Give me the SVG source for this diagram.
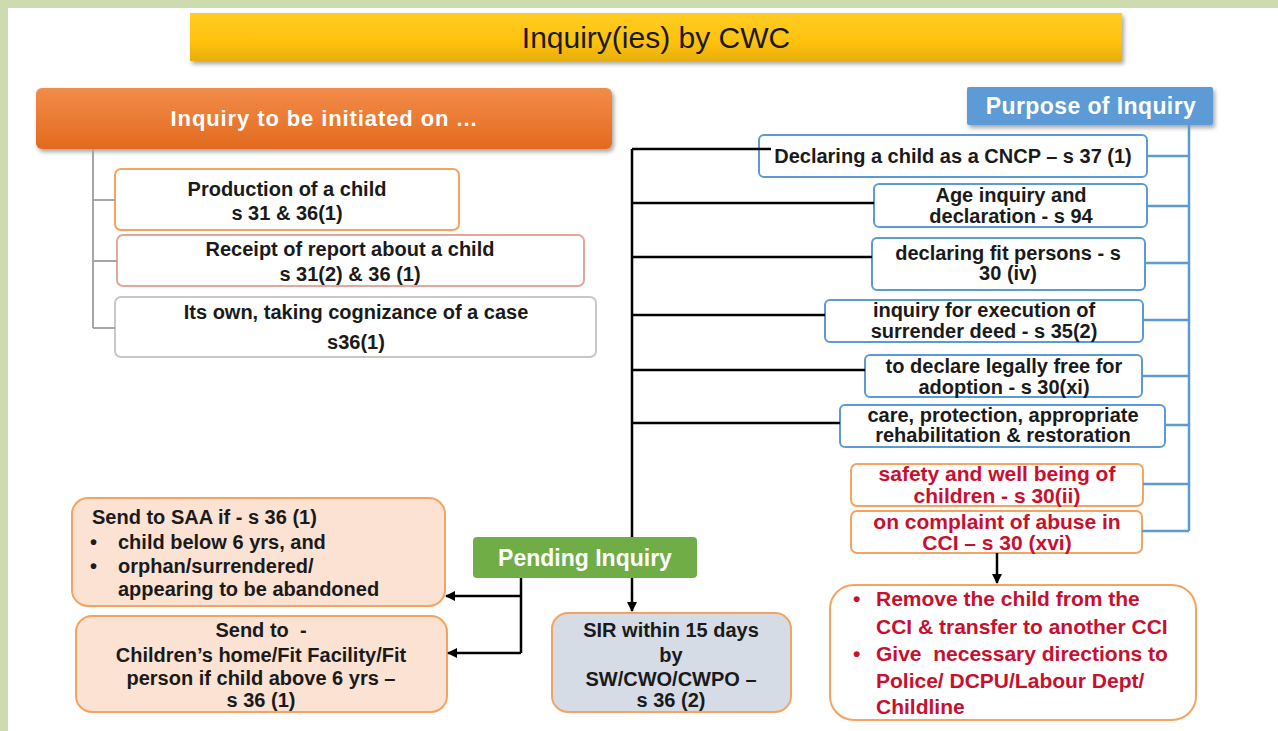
<svg xmlns="http://www.w3.org/2000/svg" width="1278" height="731" viewBox="0 0 1278 731">
<defs>
<linearGradient id="gTitle" x1="0" y1="0" x2="0" y2="1"><stop offset="0" stop-color="#FFCC22"/><stop offset="0.6" stop-color="#FFC20E"/><stop offset="1" stop-color="#E8AE10"/></linearGradient>
<linearGradient id="gOrange" x1="0" y1="0" x2="0" y2="1"><stop offset="0" stop-color="#F28C4A"/><stop offset="1" stop-color="#E36A1E"/></linearGradient>
<filter id="sh" x="-5%" y="-20%" width="110%" height="150%"><feDropShadow dx="2" dy="3" stdDeviation="2" flood-color="#000" flood-opacity="0.35"/></filter>
<marker id="ah" viewBox="0 0 10 10" refX="9" refY="5" markerWidth="10" markerHeight="10" markerUnits="userSpaceOnUse" orient="auto"><path d="M0,0 L10,5 L0,10 z" fill="#000"/></marker>
<style>
text{font-family:"Liberation Sans",Arial,sans-serif;font-weight:bold;fill:#1a1a1a;font-size:20px}
.c{text-anchor:middle}
.w{fill:#fff}
.r{fill:#C8102E;font-size:21px}
.bl{fill:#fff;stroke:#5B9BD5;stroke-width:2}
.ob{stroke:#F4A460;stroke-width:2}
.k{stroke:#000;stroke-width:2.5;fill:none}
.bln{stroke:#5B9BD5;stroke-width:2.5;fill:none}
.gr{stroke:#A6A6A6;stroke-width:2;fill:none}
</style>
</defs>
<rect x="0" y="0" width="1278" height="731" fill="#fff"/>
<rect x="0" y="0" width="1278" height="8" fill="#CDDBAE"/>
<rect x="0" y="0" width="8" height="731" fill="#CDDBAE"/>

<g id="title"><rect x="190" y="13" width="932" height="48" fill="url(#gTitle)" filter="url(#sh)"/><text x="656" y="48" class="c" style="font-weight:normal;font-size:30px;fill:#1a1a1a">Inquiry(ies) by CWC</text></g>

<g id="initiated"><rect x="36" y="88" width="576" height="61" rx="6" fill="url(#gOrange)" filter="url(#sh)"/><text x="324" y="126" class="c w" style="font-size:22px;letter-spacing:0.9px">Inquiry to be initiated on ...</text></g>

<g id="production"><rect x="115" y="169" width="344" height="61" rx="6" fill="#fff" stroke="#F4A460" stroke-width="2"/><text x="287" y="196" class="c">Production of a child</text><text x="287" y="220" class="c">s 31 &amp; 36(1)</text></g>
<g id="receipt"><rect x="117" y="235" width="467" height="51" rx="6" fill="#fff" stroke="#E2A69A" stroke-width="2"/><text x="350" y="256" class="c">Receipt of report about a child</text><text x="350" y="281" class="c">s 31(2) &amp; 36 (1)</text></g>
<g id="own"><rect x="115" y="297" width="481" height="60" rx="6" fill="#fff" stroke="#C8C8C8" stroke-width="2"/><text x="356" y="319" class="c">Its own, taking cognizance of a case</text><text x="356" y="349" class="c">s36(1)</text></g>

<g id="purpose"><rect x="967" y="87" width="246" height="38" rx="2" fill="#5B9BD5" filter="url(#sh)"/><text x="1091" y="114" class="c w" style="font-size:23px;letter-spacing:0.4px">Purpose of Inquiry</text></g>

<g id="cncp"><rect x="759" y="135" width="388" height="42" rx="5" class="bl"/><text x="953" y="163" class="c">Declaring a child as a CNCP – s 37 (1)</text></g>
<g id="age"><rect x="874" y="184" width="273" height="43" rx="5" class="bl"/><text x="1011" y="202" class="c">Age inquiry and</text><text x="1011" y="223" class="c">declaration - s 94</text></g>
<g id="fit"><rect x="872" y="238" width="273" height="52" rx="5" class="bl"/><text x="1008" y="260" class="c">declaring fit persons - s</text><text x="1008" y="280" class="c">30 (iv)</text></g>
<g id="surrender"><rect x="825" y="300" width="318" height="42" rx="5" class="bl"/><text x="984" y="317" class="c">inquiry for execution of</text><text x="984" y="338" class="c">surrender deed - s 35(2)</text></g>
<g id="adoption"><rect x="865" y="355" width="277" height="42" rx="5" class="bl"/><text x="1004" y="373" class="c">to declare legally free for</text><text x="1004" y="394" class="c">adoption - s 30(xi)</text></g>
<g id="care"><rect x="840" y="405" width="325" height="42" rx="5" class="bl"/><text x="1003" y="422" class="c">care, protection, appropriate</text><text x="1003" y="442" class="c">rehabilitation &amp; restoration</text></g>

<g id="safety"><rect x="851" y="464" width="292" height="42" rx="6" fill="#fff" class="ob"/><text x="997" y="481" class="c r">safety and well being of</text><text x="997" y="503" class="c r">children - s 30(ii)</text></g>
<g id="complaint"><rect x="851" y="511" width="291" height="42" rx="6" fill="#fff" class="ob"/><text x="997" y="529" class="c r">on complaint of abuse in</text><text x="997" y="550" class="c r">CCI – s 30 (xvi)</text></g>
<g id="remove"><rect x="830" y="585" width="366" height="135" rx="24" fill="#fff" class="ob"/>
<text x="853" y="606" class="r">•</text><text x="876" y="606" class="r">Remove the child from the</text>
<text x="876" y="634" class="r">CCI &amp; transfer to another CCI</text>
<text x="853" y="661" class="r">•</text><text x="876" y="661" class="r" xml:space="preserve">Give  necessary directions to</text>
<text x="876" y="688" class="r">Police/ DCPU/Labour Dept/</text>
<text x="876" y="714" class="r">Childline</text></g>

<g id="saa"><rect x="72" y="498" width="373" height="108" rx="16" fill="#FBE2D3" class="ob"/>
<text x="92" y="524">Send to SAA if - s 36 (1)</text>
<text x="90" y="549">•</text><text x="118" y="549">child below 6 yrs, and</text>
<text x="90" y="573">•</text><text x="118" y="573">orphan/surrendered/</text>
<text x="118" y="596">appearing to be abandoned</text></g>
<g id="sendto"><rect x="76" y="616" width="371" height="96" rx="16" fill="#FBE2D3" class="ob"/>
<text x="261" y="637" class="c" xml:space="preserve">Send to  -</text>
<text x="261" y="662" class="c">Children’s home/Fit Facility/Fit</text>
<text x="261" y="685" class="c">person if child above 6 yrs –</text>
<text x="261" y="707" class="c">s 36 (1)</text></g>
<g id="sir"><rect x="552" y="613" width="239" height="99" rx="16" fill="#D6DCE5" class="ob"/>
<text x="671" y="637" class="c">SIR within 15 days</text>
<text x="671" y="662" class="c">by</text>
<text x="671" y="686" class="c">SW/CWO/CWPO –</text>
<text x="671" y="707" class="c">s 36 (2)</text></g>
<g id="pending"><rect x="473" y="537" width="224" height="41" rx="4" fill="#70AD47"/><text x="585" y="566" class="c w" style="font-size:23px">Pending Inquiry</text></g>

<g id="connectors">
<path class="gr" d="M93,149 V328 M93,200 H115 M93,261 H117 M93,328 H115"/>
<path class="k" d="M632,149 V537 M632,149 H771 M632,203 H874 M632,257 H872 M632,315 H825 M632,370 H865 M632,423 H840"/>
<path class="k" d="M632,578 V611" marker-end="url(#ah)"/>
<path class="k" d="M521,578 V653"/>
<path class="k" d="M521,596 H446" marker-end="url(#ah)"/>
<path class="k" d="M521,653 H448" marker-end="url(#ah)"/>
<path class="bln" d="M1189,125 V531 M1147,156 H1189 M1147,206 H1189 M1145,263 H1189 M1143,320 H1189 M1142,376 H1189 M1165,425 H1189 M1143,484 H1189 M1142,531 H1189"/>
<path class="k" d="M997,553 V583" marker-end="url(#ah)"/>
</g>
</svg>
